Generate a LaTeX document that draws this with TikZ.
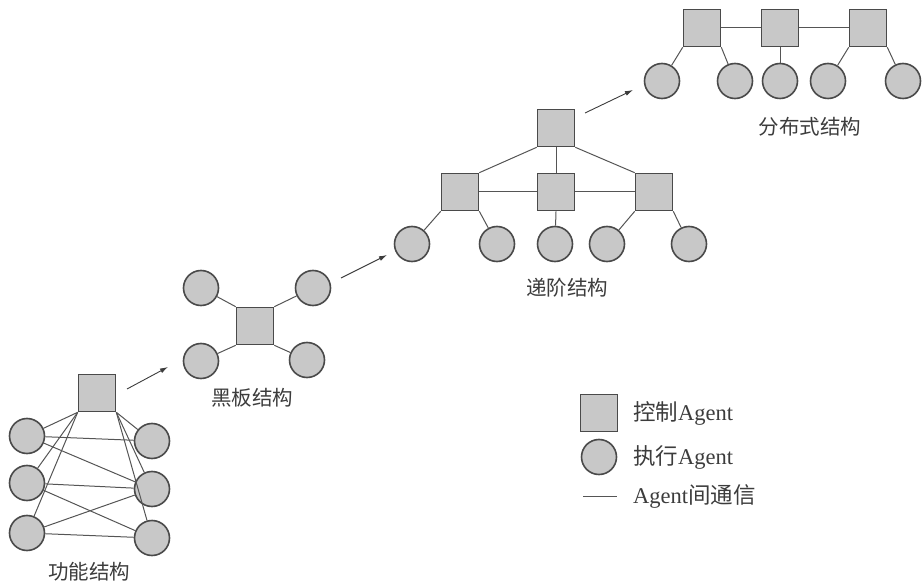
\documentclass[tikz,border=0pt]{standalone}
\usepackage{fontspec}
\usepackage{xcolor}
\usetikzlibrary{arrows.meta}
\setmainfont{Liberation Serif}
\newfontfamily\cjk{Noto Sans CJK SC}
\definecolor{boxfill}{HTML}{C8C8C8}
\definecolor{edgegray}{HTML}{4A4A4A}
\definecolor{linkgray}{HTML}{555555}
\definecolor{textgray}{HTML}{3C3C3C}

\begin{document}
\begin{tikzpicture}[x=1pt, y=-1pt,
    ctrl/.style={draw=edgegray, fill=boxfill, line width=1.6pt, minimum size=37pt, inner sep=0pt},
    exec/.style={circle, draw=edgegray, fill=boxfill, line width=1.6pt, minimum size=35pt, inner sep=0pt},
    link/.style={draw=linkgray, line width=1pt},
    step arrow/.style={draw=textgray, line width=0.9pt, -{Latex[length=8pt, width=5pt]}},
    caption/.style={text=textgray, font=\cjk\fontsize{20.5}{23}\selectfont},
    legend/.style={text=textgray, anchor=west, inner sep=0pt, font=\fontsize{22.5}{25}\selectfont}]
      \useasboundingbox (0, 0) rectangle (923, 585);
      % functional structure
      \node[ctrl] (f0) at (97, 393) {};
      \node[exec] (fl1) at (27, 436) {};
      \node[exec] (fl2) at (27, 483) {};
      \node[exec] (fl3) at (27, 533) {};
      \node[exec] (fr1) at (152, 441) {};
      \node[exec] (fr2) at (152, 489) {};
      \node[exec] (fr3) at (152, 538) {};
      \draw[link] (f0.south west) -- (fl1);
      \draw[link] (f0.south west) -- (fl2);
      \draw[link] (f0.south west) -- (fl3);
      \draw[link] (f0.south east) -- (fr1);
      \draw[link] (f0.south east) -- (fr2);
      \draw[link] (f0.south east) -- (fr3);
      \draw[link] (fl1) -- (fr1);
      \draw[link] (fl1) -- (fr2);
      \draw[link] (fl2) -- (fr2);
      \draw[link] (fl2) -- (fr3);
      \draw[link] (fl3) -- (fr2);
      \draw[link] (fl3) -- (fr3);
      \node[caption] (fcap) at (89, 572) {功能结构};
      % blackboard structure
      \node[ctrl] (b0) at (255, 326) {};
      \node[exec] (b1) at (201, 288) {};
      \node[exec] (b2) at (313, 288) {};
      \node[exec] (b3) at (201, 361) {};
      \node[exec] (b4) at (307, 360) {};
      \draw[link] (b0.north west) -- (b1);
      \draw[link] (b0.north east) -- (b2);
      \draw[link] (b0.south west) -- (b3);
      \draw[link] (b0.south east) -- (b4);
      \node[caption] (bcap) at (252, 398) {黑板结构};
      % hierarchical structure
      \node[ctrl] (h0) at (556, 128) {};
      \node[ctrl] (h1) at (460, 192) {};
      \node[ctrl] (h2) at (556, 192) {};
      \node[ctrl] (h3) at (654, 192) {};
      \node[exec] (hc1) at (412, 244) {};
      \node[exec] (hc2) at (497, 244) {};
      \node[exec] (hc3) at (555, 244) {};
      \node[exec] (hc4) at (607, 244) {};
      \node[exec] (hc5) at (689, 244) {};
      \draw[link] (h0.south west) -- (h1.north east);
      \draw[link] (h0.south) -- (h2.north);
      \draw[link] (h0.south east) -- (h3.north west);
      \draw[link] (h1.east) -- (h2.west);
      \draw[link] (h2.east) -- (h3.west);
      \draw[link] (h1.south west) -- (hc1);
      \draw[link] (h1.south east) -- (hc2);
      \draw[link] (h2.south) -- (hc3);
      \draw[link] (h3.south west) -- (hc4);
      \draw[link] (h3.south east) -- (hc5);
      \node[caption] (hcap) at (567, 288) {递阶结构};
      % distributed structure
      \node[ctrl] (d1) at (702, 28) {};
      \node[ctrl] (d2) at (780, 28) {};
      \node[ctrl] (d3) at (868, 28) {};
      \node[exec] (dc1) at (662, 81) {};
      \node[exec] (dc2) at (735, 81) {};
      \node[exec] (dc3) at (780, 81) {};
      \node[exec] (dc4) at (828, 81) {};
      \node[exec] (dc5) at (903, 81) {};
      \draw[link] (d1.east) -- (d2.west);
      \draw[link] (d2.east) -- (d3.west);
      \draw[link] (d1.south west) -- (dc1);
      \draw[link] (d1.south east) -- (dc2);
      \draw[link] (d2.south) -- (dc3);
      \draw[link] (d3.south west) -- (dc4);
      \draw[link] (d3.south east) -- (dc5);
      \node[caption] (dcap) at (810, 127) {分布式结构};
      % evolution arrows
      \coordinate (a1s) at (127, 389);
      \coordinate (a1e) at (168, 367);
      \coordinate (a2s) at (341, 278);
      \coordinate (a2e) at (387, 255);
      \coordinate (a3s) at (585, 113);
      \coordinate (a3e) at (633, 90);
      \draw[step arrow] (a1s) -- (a1e);
      \draw[step arrow] (a2s) -- (a2e);
      \draw[step arrow] (a3s) -- (a3e);
      % legend
      \node[ctrl] (kctrl) at (599, 413) {};
      \node[exec] (kexec) at (599, 457) {};
      \coordinate (kls) at (583, 496);
      \coordinate (kle) at (617, 496);
      \draw[link] (kls) -- (kle);
      \node[legend] (kctrltext) at (633, 413) {{\cjk 控制}Agent};
      \node[legend] (kexectext) at (633, 457) {{\cjk 执行}Agent};
      \node[legend] (klinktext) at (633, 496) {Agent{\cjk 间通信}};
\end{tikzpicture}
\end{document}
